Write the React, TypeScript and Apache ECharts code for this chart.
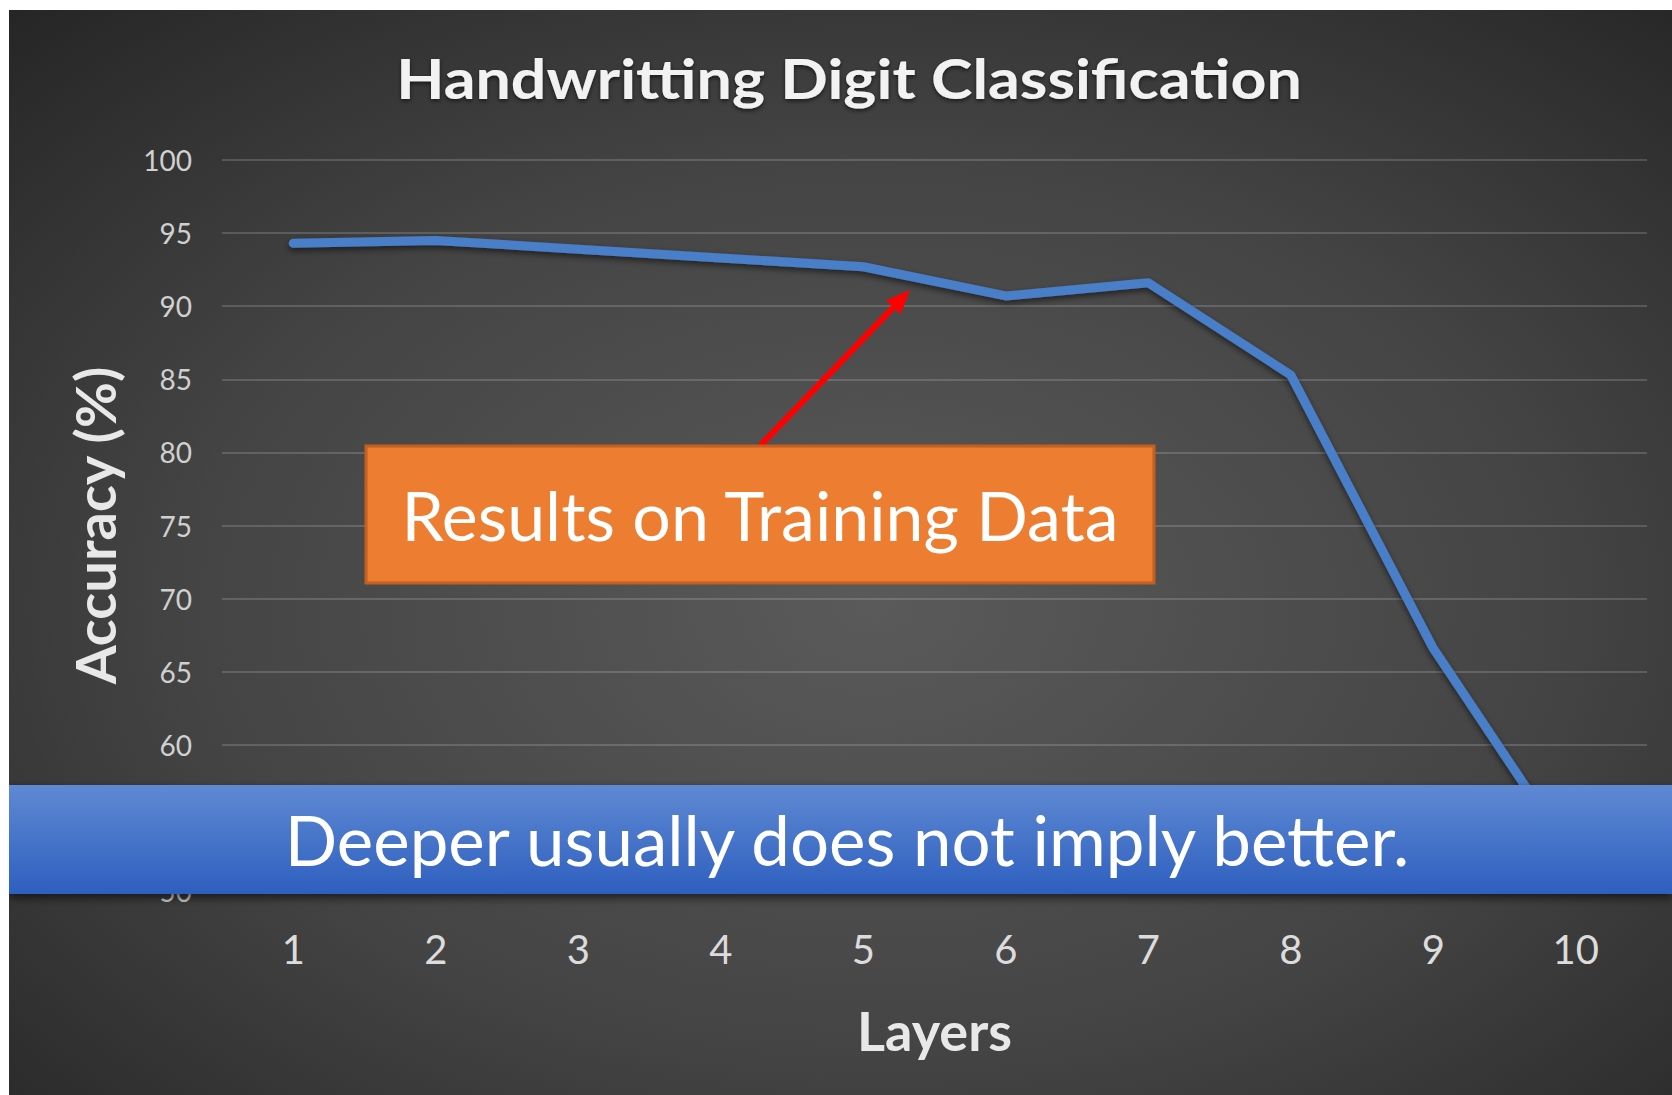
import React, { useEffect, useRef } from 'react';
import * as echarts from 'echarts';

const categories = ['1', '2', '3', '4', '5', '6', '7', '8', '9', '10'];
const accuracy = [94.3, 94.5, 93.9, 93.3, 92.7, 90.7, 91.6, 85.3, 66.6, 52.0];
const yMin = 50;
const yMax = 100;
const yStep = 5;
const titleText = 'Handwritting Digit Classification';
const yName = 'Accuracy (%)';
const xName = 'Layers';
const boxText = 'Results on Training Data';
const bannerText = 'Deeper usually does not imply better.';

export default function App() {
  const ref = useRef<HTMLDivElement>(null);
  useEffect(() => {
    const chart = echarts.init(ref.current!, null, { renderer: 'svg' });
    // arrow geometry
    const tail = [751, 436];
    const tip = [901, 280];
    const dx = tip[0] - tail[0];
    const dy = tip[1] - tail[1];
    const len = Math.sqrt(dx * dx + dy * dy);
    const ux = dx / len;
    const uy = dy / len;
    const headL = 24;
    const headW = 10;
    const bx = tip[0] - headL * ux;
    const by = tip[1] - headL * uy;
    const px = -uy;
    const py = ux;

    chart.setOption({
      animation: false,
      backgroundColor: new echarts.graphic.RadialGradient(0.52, 0.55, 0.75, [
        { offset: 0, color: '#5a5a5a' },
        { offset: 0.55, color: '#444444' },
        { offset: 1, color: '#262626' },
      ]),
      grid: { left: 213, right: 25, top: 150, bottom: 204 },
      xAxis: {
        type: 'category',
        data: categories,
        boundaryGap: true,
        name: xName,
        nameLocation: 'middle',
        nameGap: 112,
        nameTextStyle: { color: '#e8e8e8', fontSize: 54, fontWeight: 'bold', fontFamily: 'Lato' },
        axisLine: { show: false },
        axisTick: { show: false },
        axisLabel: { color: '#dcdcdc', fontSize: 40, fontFamily: 'Lato', margin: 38 },
      },
      yAxis: {
        type: 'value',
        min: yMin,
        max: yMax,
        interval: yStep,
        name: yName,
        nameLocation: 'middle',
        nameGap: 100,
        nameTextStyle: { color: '#e8e8e8', fontSize: 56, fontWeight: 'bold', fontFamily: 'Lato' },
        axisLine: { show: false },
        axisTick: { show: false },
        axisLabel: { color: '#d0d0d0', fontSize: 28, fontFamily: 'Lato', margin: 30 },
        splitLine: { lineStyle: { color: 'rgba(255,255,255,0.16)', width: 2 } },
      },
      series: [
        {
          type: 'line',
          data: accuracy,
          symbol: 'none',
          lineStyle: {
            color: '#4a7ec9',
            width: 9,
            cap: 'round',
            join: 'round',
            shadowColor: 'rgba(0,0,0,0.55)',
            shadowBlur: 6,
            shadowOffsetY: 3,
          },
        },
      ],
      graphic: [
        {
          type: 'text',
          x: 840,
          y: 67,
          scaleX: 1.12,
          z: 10,
          style: {
            text: titleText,
            fill: '#f2f2f2',
            font: 'bold 56px Lato',
            align: 'center',
            verticalAlign: 'middle',
            textShadowColor: 'rgba(0,0,0,0.6)',
            textShadowBlur: 4,
            textShadowOffsetY: 2,
          },
        },
        {
          type: 'line',
          z: 20,
          shape: { x1: tail[0], y1: tail[1], x2: bx, y2: by },
          style: { stroke: '#ff0000', lineWidth: 6 },
        },
        {
          type: 'polygon',
          z: 20,
          shape: {
            points: [
              [tip[0], tip[1]],
              [bx + px * headW, by + py * headW],
              [bx - px * headW, by - py * headW],
            ],
          },
          style: { fill: '#ff0000' },
        },
        {
          type: 'rect',
          z: 20,
          shape: { x: 357, y: 436, width: 788, height: 137 },
          style: { fill: '#ed7d31', stroke: '#c2601f', lineWidth: 3 },
        },
        {
          type: 'text',
          z: 21,
          x: 751,
          y: 504,
          style: {
            text: boxText,
            fill: '#ffffff',
            font: '68px Lato',
            align: 'center',
            verticalAlign: 'middle',
          },
        },
        {
          type: 'rect',
          z: 30,
          shape: { x: 0, y: 775, width: 1663, height: 109 },
          style: {
            fill: new echarts.graphic.LinearGradient(0, 0, 0, 1, [
              { offset: 0, color: '#5f89d3' },
              { offset: 1, color: '#2e5fbf' },
            ]),
            shadowColor: 'rgba(0,0,0,0.6)',
            shadowBlur: 10,
            shadowOffsetY: 4,
          },
        },
        {
          type: 'text',
          z: 31,
          x: 838,
          y: 829,
          style: {
            text: bannerText,
            fill: '#ffffff',
            font: '69px Lato',
            align: 'center',
            verticalAlign: 'middle',
          },
        },
      ],
    });
    return () => chart.dispose();
  }, []);
  return (
    <div
      ref={ref}
      style={{ position: 'absolute', left: 9, top: 10, width: 1663, height: 1085 }}
    />
  );
}
